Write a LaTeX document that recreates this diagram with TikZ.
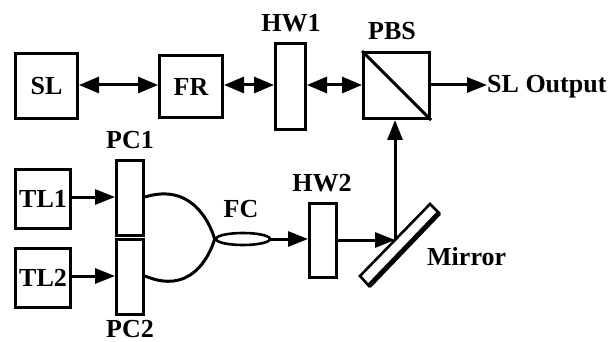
\documentclass[tikz,border=0pt]{standalone}
\usepackage{fontspec}
\setmainfont{Liberation Serif}
\usetikzlibrary{arrows.meta,shapes.geometric}
\tikzset{
 box/.style={draw=black,line width=3pt,fill=white,inner sep=0pt,anchor=north west},
 lab/.style={font=\bfseries\fontsize{26}{26}\selectfont,inner sep=0pt},
 small/.style={font=\bfseries\fontsize{26}{26}\selectfont,inner sep=0pt},
 conn/.style={line width=3pt,-{Triangle[length=20pt,width=15pt]}},
 both/.style={line width=3pt,{Triangle[length=20pt,width=16pt]}-{Triangle[length=20pt,width=16pt]}},
 fib/.style={line width=3pt}
}
\begin{document}
\begin{tikzpicture}[x=1pt,y=-1pt]
\useasboundingbox (0,0) rectangle (608,342);
\node[box,minimum width=62pt,minimum height=65pt] (sl) at (14,52) {};
\node[lab] at (sl.center) {SL};
\node[box,minimum width=63pt,minimum height=62pt] (fr) at (158,54) {};
\node[lab] at (fr.center) {FR};
\node[box,minimum width=30pt,minimum height=86pt] (hw1) at (274,42) {};
\node[box,minimum width=66pt,minimum height=66pt] (pbs) at (362,51) {};
\draw[line width=3pt] (pbs.north west) -- (pbs.south east);
\node[box,minimum width=55pt,minimum height=59pt] (tl1) at (14,168) {};
\node[lab] at (tl1.center) {TL1};
\node[box,minimum width=55pt,minimum height=59pt] (tl2) at (14,247) {};
\node[lab] at (tl2.center) {TL2};
\node[box,minimum width=27pt,minimum height=75pt] (pc1) at (115,159) {};
\node[box,minimum width=27pt,minimum height=75pt] (pc2) at (115,238) {};
\node[box,minimum width=27pt,minimum height=74pt] (hw2) at (308,202) {};
\node[draw=black,line width=2.6pt,ellipse,minimum width=54pt,minimum height=12pt,inner sep=0pt] (fc) at (243,239) {};
\node[small,anchor=base] at (291,32) {HW1};
\node[small,anchor=base] at (392,40) {PBS};
\node[small,anchor=base] at (130,149) {PC1};
\node[small,anchor=base] at (130,337) {PC2};
\node[small,anchor=base] at (241,218) {FC};
\node[small,anchor=base] at (322,191) {HW2};
\node[small,anchor=base west] (mir) at (427,265) {Mirror};
\node[small,anchor=base west] (out) at (487,93) {SL Output};
\coordinate (r1) at (0,85);
\draw[both] (sl.east |- r1) -- (fr.west |- r1);
\draw[both] (fr.east |- r1) -- (hw1.west |- r1);
\draw[both] (hw1.east |- r1) -- (pbs.west |- r1);
\draw[conn] (pbs.east |- r1) -- (out.west |- r1);
\coordinate (mc) at (395,240);
\draw[conn] (mc) -- (mc |- pbs.south);
\draw[conn] (hw2.east |- mc) -- (mc);
\coordinate (r2) at (0,197);
\coordinate (r3) at (0,276);
\draw[conn] (tl1.east |- r2) -- (pc1.west |- r2);
\draw[conn] (tl2.east |- r3) -- (pc2.west |- r3);
\draw[conn] (fc.east) -- (hw2.west |- fc.east);
\draw[fib] (pc1.east |- r2) .. controls (190,183) and (209,220) .. (fc.west);
\draw[fib] (pc2.east |- r3) .. controls (190,295) and (209,258) .. (fc.west);
\coordinate (m1) at (430,204);
\coordinate (m2) at (439,213);
\coordinate (m3) at (369,286);
\coordinate (m4) at (360,276);
\draw[line width=2.6pt,fill=white] (m1) -- (m2) -- (m3) -- (m4) -- cycle;
\draw[line width=5pt] (m2) -- (m3);
\end{tikzpicture}
\end{document}
